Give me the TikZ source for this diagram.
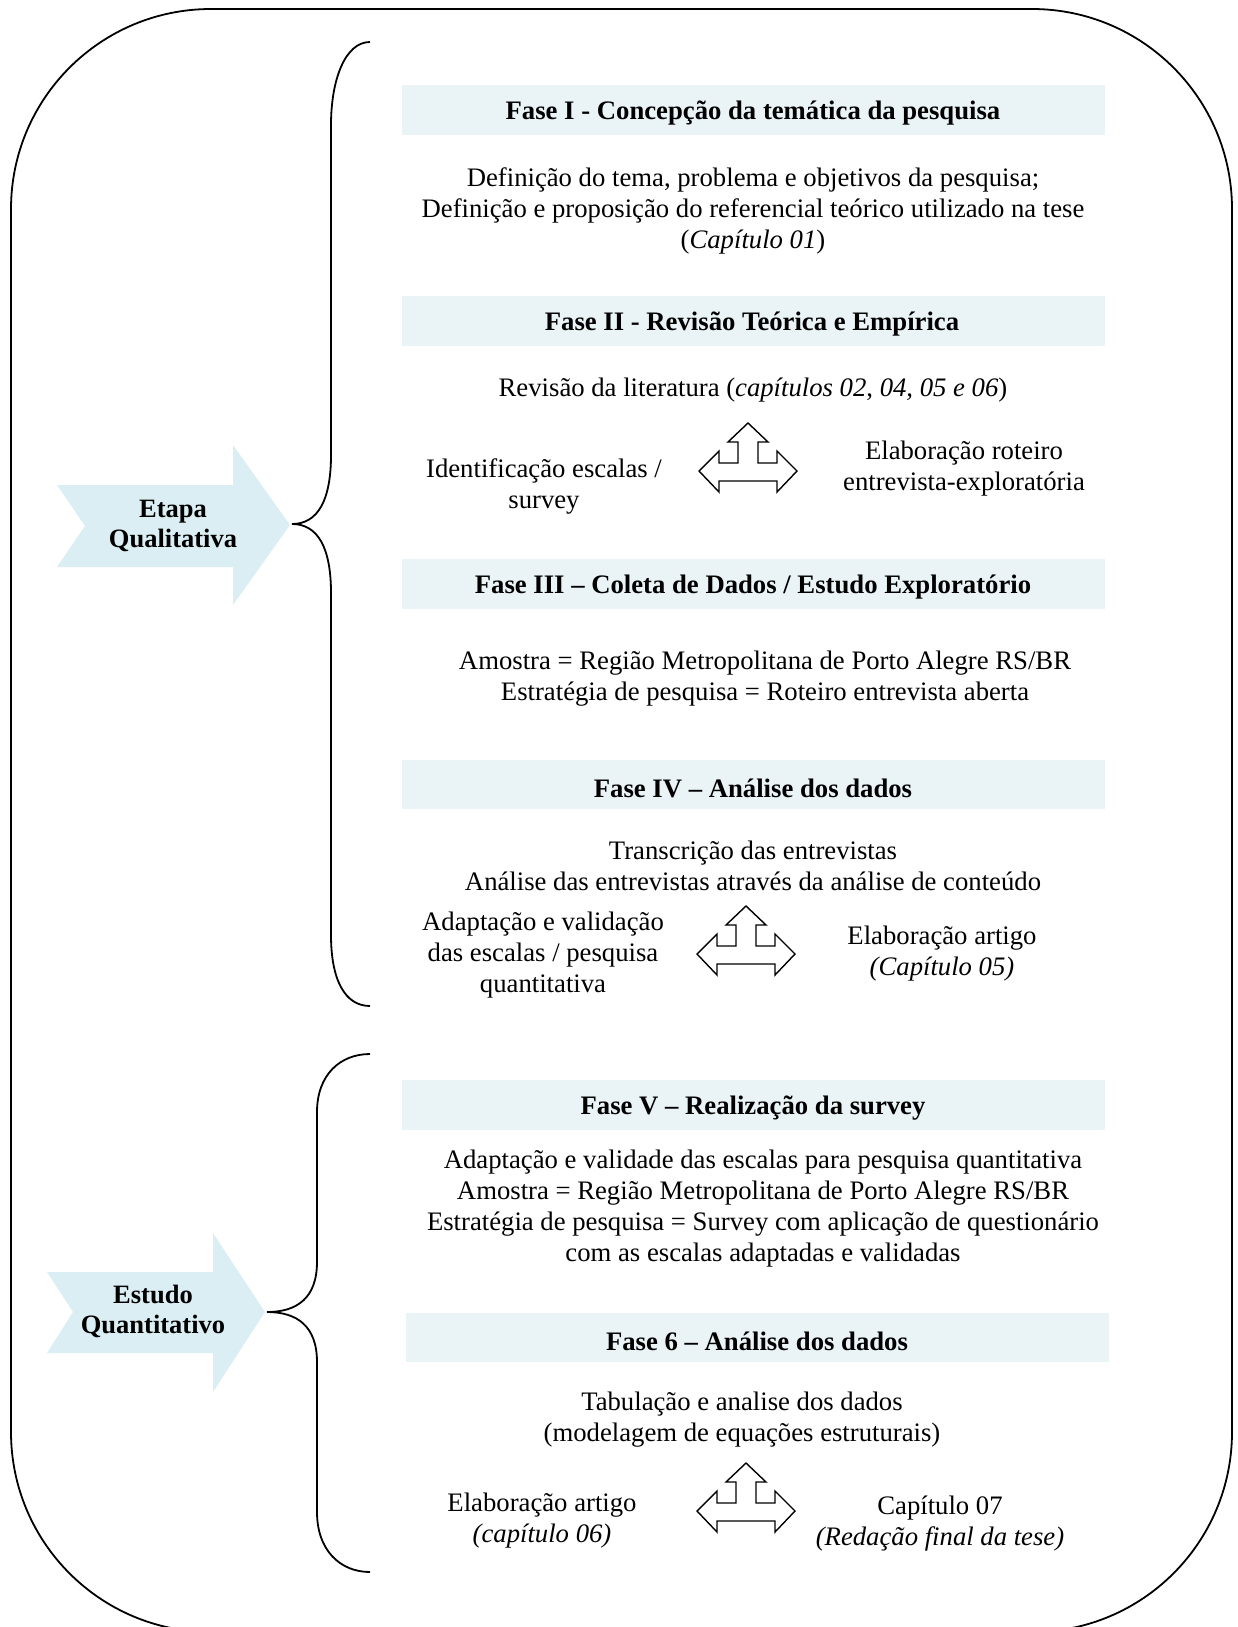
\documentclass[tikz,border=0pt]{standalone}
\usepackage{fontspec}
\setmainfont{Liberation Serif}
\definecolor{chev}{HTML}{DAEEF3}
\definecolor{barc}{HTML}{EAF3F6}
\begin{document}
\begin{tikzpicture}[x=1pt,y=-1pt,
  txt/.style={align=center, font=\fontsize{26.7}{31}\selectfont, inner sep=0pt},
  ttl/.style={font=\bfseries\fontsize{26.7}{31}\selectfont, inner sep=0pt},
  barbox/.style={fill=barc, draw=none},
  frame/.style={line width=1.8pt},
  chevshape/.style={fill=chev, draw=none},
  chevtext/.style={align=center, font=\bfseries\fontsize{26.5}{30}\selectfont, inner sep=0pt},
  pics/triarrow/.style={code={\draw[line width=1.4pt, line join=miter, fill=white]
    (0,-34) -- (20,-15) -- (10,-15) -- (10,6) -- (29,6) -- (29,-6) -- (49,14) -- (29,35) -- (29,24)
    -- (-29,24) -- (-29,35) -- (-49,14) -- (-29,-6) -- (-29,6) -- (-10,6) -- (-10,-15) -- (-20,-15) -- cycle;}}
]
\useasboundingbox (0,0) rectangle (1238,1627);
\begin{scope}
\clip (0,0) rectangle (1238,1627);
\draw[frame, rounded corners=200pt] (11,9) rectangle (1232,1632);
\end{scope}

% chevrons
\fill[chevshape] (57,485) -- (233,485) -- (233,445) -- (290,525) -- (233,605) -- (233,567) -- (57,567) -- (85,526) -- cycle;
\fill[chevshape] (47,1272) -- (213,1272) -- (213,1233) -- (265,1312) -- (213,1392) -- (213,1353) -- (47,1353) -- (73,1312) -- cycle;

% braces
\draw[frame] (370,42) .. controls (345,42) and (331,80) .. (331,125) -- (331,455)
  .. controls (331,500) and (318,524) .. (292,524)
  .. controls (318,524) and (331,548) .. (331,593) -- (331,935)
  .. controls (331,980) and (345,1006) .. (370,1006);
\draw[frame] (370,1054) .. controls (340,1054) and (317,1075) .. (317,1112) -- (317,1262)
  .. controls (317,1298) and (297,1312) .. (267,1312)
  .. controls (297,1312) and (317,1326) .. (317,1362) -- (317,1512)
  .. controls (317,1550) and (340,1572) .. (370,1572);

% bars
\fill[barbox] (402,85) rectangle (1105,135);
\fill[barbox] (402,296) rectangle (1105,346);
\fill[barbox] (402,559) rectangle (1105,609);
\fill[barbox] (402,760) rectangle (1105,809);
\fill[barbox] (402,1080) rectangle (1105,1130);
\fill[barbox] (406,1313) rectangle (1109,1362);

\pic at (748,457) {triarrow};
\pic at (746,940) {triarrow};
\pic at (746,1497) {triarrow};

\begin{scope}[shift={(0,2.5)}]
\node[chevtext] (etapa) at (173,523) {Etapa\\Qualitativa};
\node[chevtext] (estudo) at (153,1309) {Estudo\\Quantitativo};

% titles
\node[ttl] (t1) at (753,111) {Fase I - Concepção da temática da pesquisa};
\node[ttl] (t2) at (752,322) {Fase II - Revisão Teórica e Empírica};
\node[ttl] (t3) at (753,585) {Fase III – Coleta de Dados / Estudo Exploratório};
\node[ttl] (t4) at (753,786) {Fase IV – Análise dos dados};
\node[ttl] (t5) at (753,1106) {Fase V – Realização da survey};
\node[ttl] (t6) at (757,1339) {Fase 6 – Análise dos dados};

% bodies
\node[txt] (b1) at (753,208) {Definição do tema, problema e objetivos da pesquisa;\\Definição e proposição do referencial teórico utilizado na tese\\(\textit{Capítulo 01})};
\node[txt] (b2) at (753,388) {Revisão da literatura (\textit{capítulos 02}, \textit{04, 05 e 06})};
\node[txt] (id) at (544,484) {Identificação escalas /\\survey};
\node[txt] (el) at (964,466) {Elaboração roteiro\\entrevista-exploratória};

\node[txt] (b3) at (765,676) {Amostra = Região Metropolitana de Porto Alegre RS/BR\\Estratégia de pesquisa = Roteiro entrevista aberta};

\node[txt] (b4) at (753,863) {Transcrição das entrevistas\\Análise das entrevistas através da análise de conteúdo};
\node[txt] (ad) at (543,953) {Adaptação e validação\\das escalas / pesquisa\\quantitativa};
\node[txt] (ea) at (942,951) {Elaboração artigo\\\textit{(Capítulo 05)}};

\node[txt] (b5) at (763,1206) {Adaptação e validade das escalas para pesquisa quantitativa\\Amostra = Região Metropolitana de Porto Alegre RS/BR\\Estratégia de pesquisa = Survey com aplicação de questionário\\com as escalas adaptadas e validadas};

\node[txt] (b6) at (742,1417) {Tabulação e analise dos dados\\(modelagem de equações estruturais)};
\node[txt] (ea2) at (542,1518) {Elaboração artigo\\\textit{(capítulo 06)}};
\node[txt] (cap) at (940,1521) {Capítulo 07\\\textit{(Redação final da tese)}};
\end{scope}
\end{tikzpicture}
\end{document}
